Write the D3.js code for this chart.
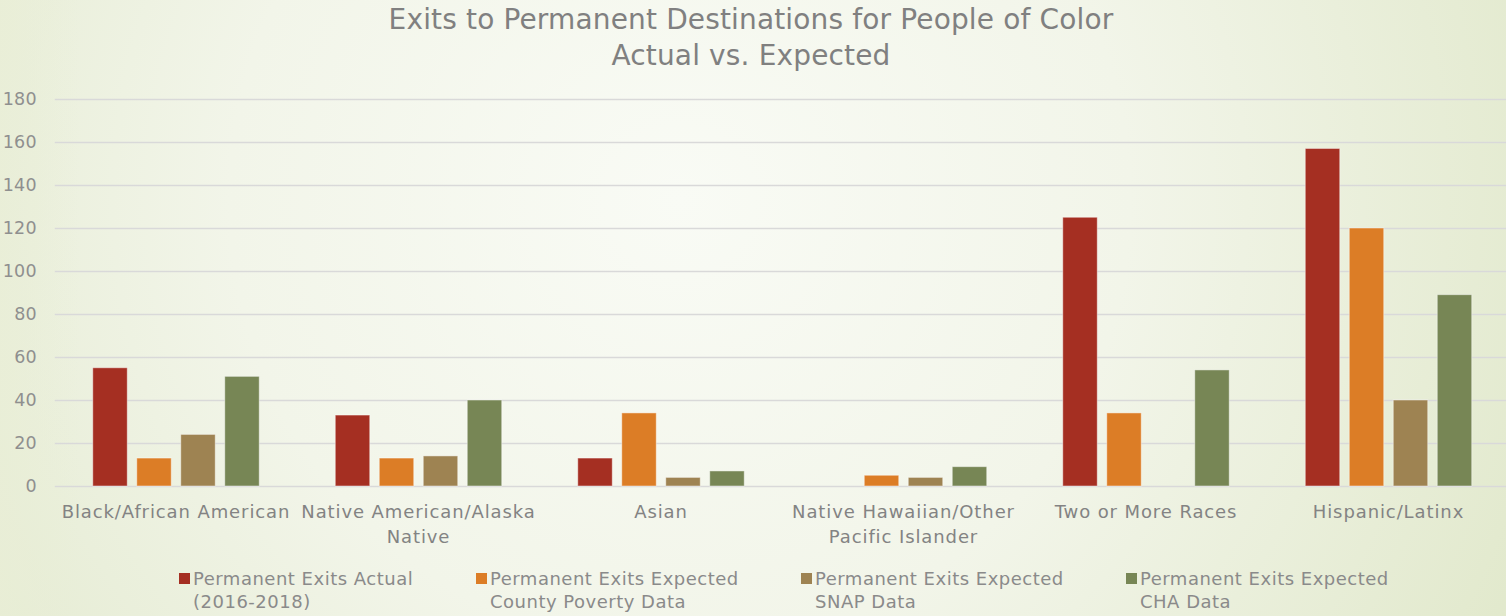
<!DOCTYPE html>
<html>
<head>
<meta charset="utf-8">
<script src="https://cdn.jsdelivr.net/npm/d3@7"></script>
<style>
  html, body { margin: 0; padding: 0; background: #f4f6ec; }
  svg { display: block; }
  text { font-family: "DejaVu Sans", sans-serif; }
</style>
</head>
<body>
<svg id="chart" width="1506" height="616"></svg>
<script>
const categories = [
  ["Black/African American"],
  ["Native American/Alaska", "Native"],
  ["Asian"],
  ["Native Hawaiian/Other", "Pacific Islander"],
  ["Two or More Races"],
  ["Hispanic/Latinx"]
];
const seriesNames = [
  ["Permanent Exits Actual", "(2016-2018)"],
  ["Permanent Exits Expected", "County Poverty Data"],
  ["Permanent Exits Expected", "SNAP Data"],
  ["Permanent Exits Expected", "CHA Data"]
];
const actual = [55, 33, 13, 0, 125, 157];
const expectedPoverty = [13, 13, 34, 5, 34, 120];
const expectedSNAP = [24, 14, 4, 4, 0, 40];
const expectedCHA = [51, 40, 7, 9, 54, 89];
const yTicks = [0, 20, 40, 60, 80, 100, 120, 140, 160, 180];
const titleLines = ["Exits to Permanent Destinations for People of Color", "Actual vs. Expected"];
const colors = ["#a52f22", "#dc7d26", "#9e8352", "#778655"];

const seriesValues = [actual, expectedPoverty, expectedSNAP, expectedCHA];
const W = 1506, H = 616;
const svg = d3.select("#chart");

// background gradient
const defs = svg.append("defs");
const rg = defs.append("radialGradient").attr("id", "bg")
  .attr("gradientUnits", "userSpaceOnUse")
  .attr("cx", 680).attr("cy", 200).attr("r", 1000);
rg.append("stop").attr("offset", "0%").attr("stop-color", "#f9fbf5");
rg.append("stop").attr("offset", "45%").attr("stop-color", "#f2f5e9");
rg.append("stop").attr("offset", "100%").attr("stop-color", "#dfe7c8");
svg.append("rect").attr("width", W).attr("height", H).attr("fill", "url(#bg)");
const lg = defs.append("linearGradient").attr("id", "leftfade")
  .attr("x1", 0).attr("x2", 1).attr("y1", 0).attr("y2", 0);
lg.append("stop").attr("offset", "0%").attr("stop-color", "#e9eed6").attr("stop-opacity", 0.7);
lg.append("stop").attr("offset", "100%").attr("stop-color", "#e9eed6").attr("stop-opacity", 0);
svg.append("rect").attr("width", 80).attr("height", H).attr("fill", "url(#leftfade)");

const plotLeft = 54.75, plotRight = 1509.75, plotTop = 99, plotBottom = 486;

const x0 = d3.scaleBand().domain(d3.range(categories.length))
  .range([plotLeft, plotRight]).padding(0);
const x1 = d3.scaleBand().domain(d3.range(seriesValues.length))
  .range([0, x0.bandwidth()]).paddingInner(0.216).paddingOuter(0.864);
const y = d3.scaleLinear().domain([0, 180]).range([plotBottom, plotTop]);

// gridlines
const gridAxis = d3.axisLeft(y).tickValues(yTicks).tickSize(-(plotRight - plotLeft)).tickFormat("");
const g = svg.append("g").attr("transform", `translate(${plotLeft},0)`).call(gridAxis);
g.select(".domain").remove();
g.selectAll(".tick line").attr("stroke", "#d9d9d9").attr("stroke-width", 1.6);

// y tick labels
const yAxis = d3.axisLeft(y).tickValues(yTicks).tickSize(0).tickPadding(0);
const ya = svg.append("g").attr("transform", `translate(37,0)`).call(yAxis);
ya.select(".domain").remove();
ya.selectAll("text").attr("fill", "#8f8f8f").style("font-size", "17.5px")
  .style("letter-spacing", "0.3px")
  .style("font-family", "DejaVu Sans, sans-serif");

// bars
const groups = svg.append("g").selectAll("g").data(categories).join("g")
  .attr("transform", (d, i) => `translate(${x0(i)},0)`);
groups.selectAll("rect").data((d, i) => seriesValues.map((s, k) => ({k, v: s[i]})))
  .join("rect")
  .filter(d => d.v > 0)
  .attr("x", d => x1(d.k))
  .attr("width", x1.bandwidth())
  .attr("y", d => y(d.v))
  .attr("height", d => y(0) - y(d.v))
  .attr("fill", d => colors[d.k])
  .attr("stroke", "rgba(255,255,255,0.45)")
  .attr("stroke-width", 1);

// category labels
const catG = svg.append("g");
categories.forEach((lines, i) => {
  const t = catG.append("text")
    .attr("x", x0(i) + x0.bandwidth() / 2)
    .attr("text-anchor", "middle")
    .attr("fill", "#838383")
    .style("font-size", "18px")
    .style("letter-spacing", "0.9px");
  lines.forEach((ln, j) => {
    t.append("tspan").attr("x", x0(i) + x0.bandwidth() / 2).attr("y", 518 + j * 25).text(ln);
  });
});

// title
titleLines.forEach((ln, j) => {
  svg.append("text").attr("x", 751).attr("y", 29 + j * 36)
    .attr("text-anchor", "middle").attr("fill", "#808080")
    .style("font-size", "28px").style("letter-spacing", "0.15px").text(ln);
});

// legend
const legendX = [179, 476, 801, 1126];
seriesNames.forEach((lines, k) => {
  svg.append("rect").attr("x", legendX[k]).attr("y", 573).attr("width", 11).attr("height", 11)
    .attr("fill", colors[k]);
  const t = svg.append("text").attr("fill", "#8a8a8a").style("font-size", "18px")
    .style("letter-spacing", "0.5px");
  lines.forEach((ln, j) => {
    t.append("tspan").attr("x", legendX[k] + 14).attr("y", 585 + j * 23).text(ln);
  });
});
</script>
</body>
</html>
